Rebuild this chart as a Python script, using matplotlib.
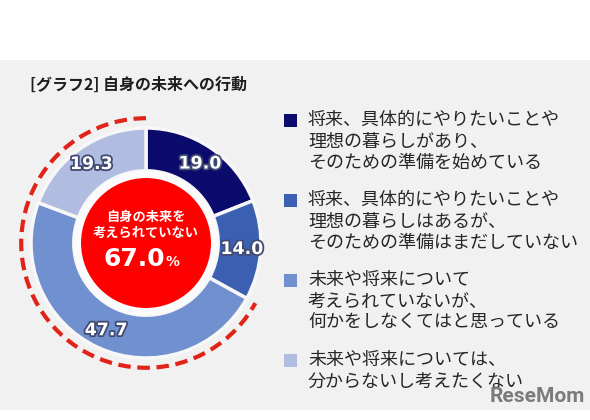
import matplotlib
matplotlib.use("Agg")
import matplotlib.pyplot as plt
from matplotlib.patches import Rectangle, Circle, Arc
import matplotlib.patheffects as pe

plt.rcParams['font.family'] = ['Noto Sans CJK JP', 'DejaVu Sans']

# ---- data ----
title = "[グラフ2] 自身の未来への行動"
categories = [
    "将来、具体的にやりたいことや\n理想の暮らしがあり、\nそのための準備を始めている",
    "将来、具体的にやりたいことや\n理想の暮らしはあるが、\nそのための準備はまだしていない",
    "未来や将来について\n考えられていないが、\n何かをしなくてはと思っている",
    "未来や将来については、\n分からないし考えたくない",
]
values = [19.0, 14.0, 47.7, 19.3]
colors = ["#0b0b6e", "#3b60b2", "#7190cf", "#b0bde0"]
center_caption = "自身の未来を\n考えられていない"
highlight_idx = [2, 3]  # segments summed in the centre (67.0%)

W, H = 590, 420
fig = plt.figure(figsize=(W / 100, H / 100), dpi=100, facecolor="white")

# grey panel
fig.patches.append(Rectangle((0, 10 / H), 1, 350 / H, transform=fig.transFigure,
                             facecolor="#f1f1f1", edgecolor="none", zorder=-5))

# donut axes: centre at (146, 243) px, radius 115 px
R_px = 115
half = 1.25
side = 2 * half * R_px
cx, cy = 146, 243
ax = fig.add_axes([(cx - side / 2) / W, ((H - cy) - side / 2) / H, side / W, side / H])
ax.set_xlim(-half, half)
ax.set_ylim(-half, half)
ax.set_aspect("equal")
ax.axis("off")
ax.set_zorder(1)

wedges, _, autotexts = ax.pie(
    values, colors=colors, startangle=90, counterclock=False, radius=1.0,
    autopct=lambda p: f"{p:.1f}", pctdistance=0.835,
    wedgeprops=dict(width=0.372, edgecolor="#f7f7f7", linewidth=2.5),
)
ax.set_xlim(-half, half)
ax.set_ylim(-half, half)
for t in autotexts:
    t.set_color("white")
    t.set_fontfamily("DejaVu Sans")
    t.set_fontweight("bold")
    t.set_fontsize(12.5)
    t.set_zorder(7)
    t.set_path_effects([pe.withStroke(linewidth=2.6, foreground="#414a73")])

# inner hole and red disc
ax.add_patch(Circle((0, 0), 0.628, facecolor="#fbfbfb", edgecolor="none", zorder=3))
ax.add_patch(Circle((0, 0), 0.565, facecolor="#ff0000", edgecolor="none", zorder=4))

# dashed arc around highlighted segments
theta1 = min(wedges[i].theta1 for i in highlight_idx)
theta2 = max(wedges[i].theta2 for i in highlight_idx)
ax.add_patch(Arc((0, 0), 2.17, 2.17, theta1=theta1, theta2=theta2,
                 color="#e2231a", linewidth=3.0, linestyle=(0, (3.0, 1.6)),
                 capstyle="butt", zorder=5))

# centre text
total_hl = sum(values[i] for i in highlight_idx)
ax.text(0, 0.155, center_caption, ha="center", va="center", color="white",
        fontsize=9.5, fontweight="bold", linespacing=1.15, zorder=6)
ax.text(0.165, -0.2, f"{total_hl:.1f}", ha="right", va="baseline", color="white",
        fontsize=18, fontweight="bold", family="DejaVu Sans", zorder=6)
ax.text(0.17, -0.2, "%", ha="left", va="baseline", color="white",
        fontsize=10, fontweight="bold", family="DejaVu Sans", zorder=6)

# title
fig.text(30 / W, 1 - 85 / H, title, ha="left", va="center", fontsize=11.5,
         fontweight="bold", color="#1e1e1e")

# legend (manual)
line_h = 21.5
gap = 37
y = 120
for lab, col in zip(categories, colors):
    fig.patches.append(Rectangle((284 / W, 1 - (y + 6.5) / H), 13 / W, 13 / H,
                                 transform=fig.transFigure, facecolor=col,
                                 edgecolor="none", zorder=2))
    lines = lab.split("\n")
    for k, ln in enumerate(lines):
        fig.text(308 / W, 1 - (y + k * line_h) / H, ln, ha="left", va="center",
                 fontsize=13, color="#262626")
    y += (len(lines) - 1) * line_h + gap

# watermark
fig.text(585 / W, 1 - 397 / H, "ReseMom", ha="right", va="center", fontsize=15,
         fontweight="bold", color="#7b7b7b", family="Roboto")

fig.savefig("out.png", dpi=100, facecolor="white")
